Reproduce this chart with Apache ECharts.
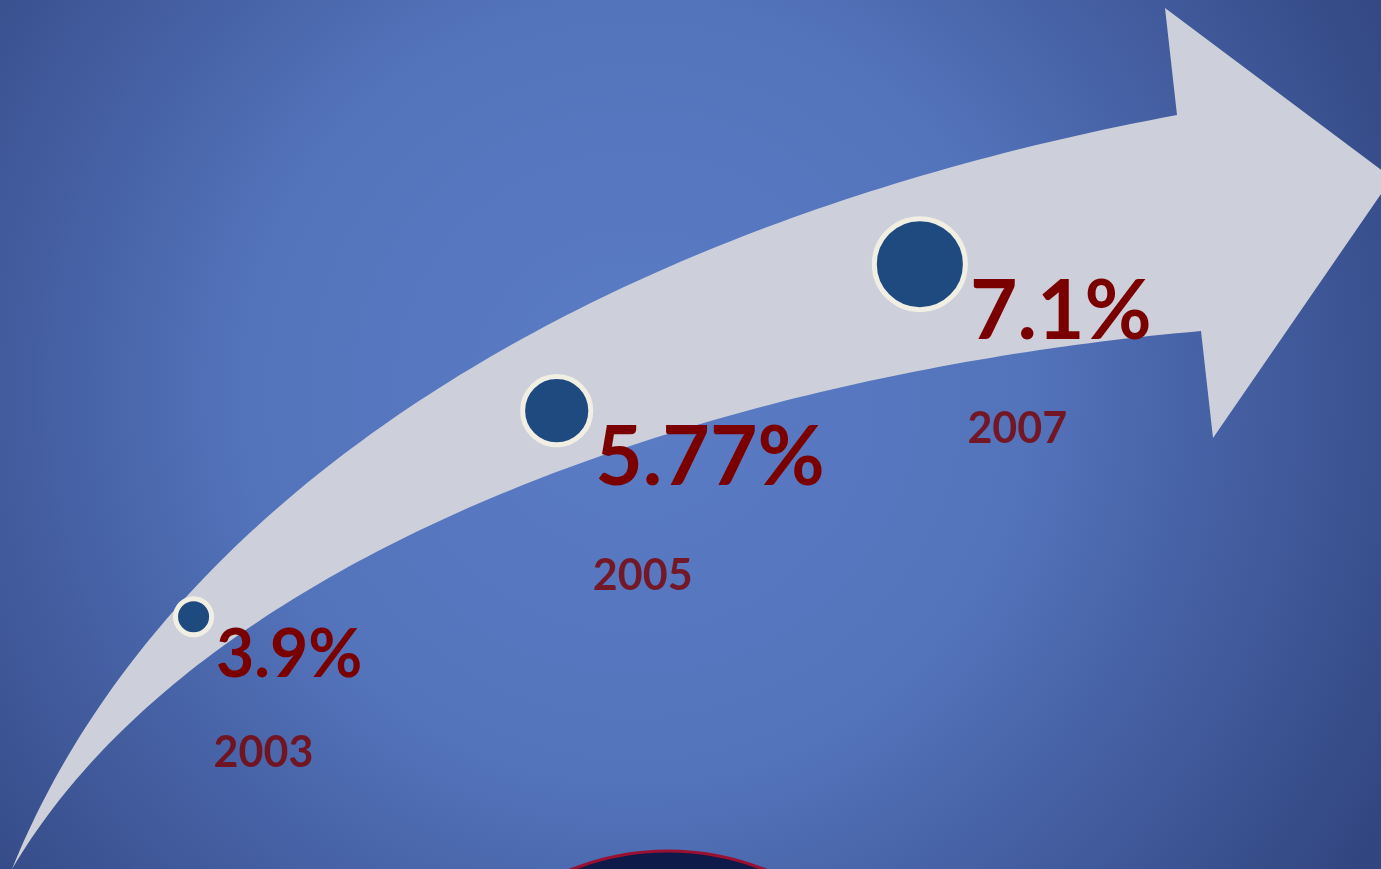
<!DOCTYPE html>
<html><head><meta charset="utf-8">
<script src="https://cdn.jsdelivr.net/npm/echarts@6/dist/echarts.min.js"></script>
<style>html,body{margin:0;padding:0;background:#4a66ad;}#c{width:1381px;height:869px;}</style>
</head><body><div id="c"></div>
<script>
// ---- data ----
const years = [2003, 2005, 2007];
const rates = [3.9, 5.77, 7.1];

// ---- per-item label styling ----
const valueFont = [66, 82, 82];
const valueOffsetY = [39, 48, 48];
const yearFont = 43;
const yearOffsetY = [136, 165, 165];

// ---- decorative arrow outline (pixels, cubic bezier control points) ----
const upperEdge = [[12,869],[162,498],[587,225],[1177,115]];
const headPts = [[1165,8],[1392,178],[1213,438],[1201,331]];
const lowerEdge = [[1201,331],[704,375],[197,555],[12,869]];

function cubic(p, n) {
  const out = [];
  for (let k = 0; k <= n; k++) {
    const t = k / n, u = 1 - t;
    const a = u*u*u, b = 3*u*u*t, c = 3*u*t*t, d = t*t*t;
    out.push([a*p[0][0] + b*p[1][0] + c*p[2][0] + d*p[3][0], a*p[0][1] + b*p[1][1] + c*p[2][1] + d*p[3][1]]);
  }
  return out;
}
const arrowPoints = cubic(upperEdge, 120).concat(headPts, cubic(lowerEdge, 120).slice(1));

const sizeOf = v => 17.19 * v - 31;

const chart = echarts.init(document.getElementById('c'));
const labelBase = { show: true, position: 'right', distance: 2, color: '#7a0000', fontFamily: 'Lato', fontWeight: 'bold' };

chart.setOption({
  animation: false,
  grid: { left: 12, right: 98, top: 165, bottom: 43 },
  xAxis: { type: 'value', min: 2002, max: 2009, show: false },
  yAxis: { type: 'value', min: 2, max: 8, show: false },
  graphic: {
    elements: [
      { type: 'rect', z: 0, silent: true, shape: { x: 0, y: 0, width: 1381, height: 869 },
        style: { fill: { type: 'radial', x: 0.46, y: 0.45, r: 1.0,
          colorStops: [{ offset: 0, color: '#5b7dc5' }, { offset: 0.45, color: '#5373bb' }, { offset: 1, color: '#314580' }] } } },
      { type: 'circle', z: 1, silent: true, shape: { cx: 668, cy: 1111, r: 260 },
        style: { fill: '#0d1a4a', stroke: '#9a1030', lineWidth: 3 } },
      { type: 'polygon', z: 2, silent: true, shape: { points: arrowPoints },
        style: { fill: '#cdd0da' } }
    ]
  },
  series: [
    {
      type: 'scatter', z: 10, silent: true,
      data: years.map((y, i) => ({ value: [y, rates[i]], label: { fontSize: valueFont[i], offset: [0, valueOffsetY[i]] } })),
      symbolSize: v => sizeOf(v[1]),
      itemStyle: { color: '#1f4a7f', borderColor: '#f1eee3', borderWidth: 5, opacity: 1 },
      label: Object.assign({}, labelBase, { formatter: p => p.value[1] + '%' })
    },
    {
      type: 'scatter', z: 9, silent: true,
      data: years.map((y, i) => ({ value: [y, rates[i]], label: { offset: [0, yearOffsetY[i]] } })),
      symbolSize: v => sizeOf(v[1]),
      itemStyle: { color: 'rgba(0,0,0,0)' },
      label: Object.assign({}, labelBase, { fontSize: yearFont, formatter: p => String(p.value[0]) })
    }
  ]
});
</script>
</body></html>
